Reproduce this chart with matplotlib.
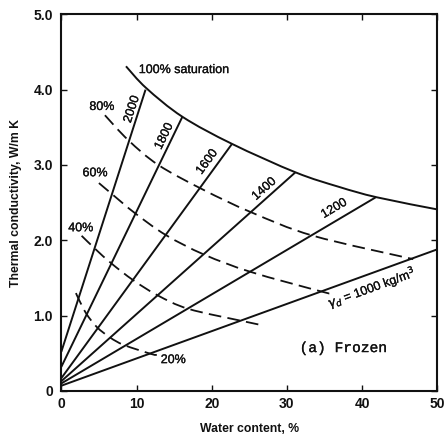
import matplotlib
matplotlib.use("Agg")
import matplotlib.pyplot as plt
from matplotlib.path import Path
from matplotlib.patches import PathPatch
import matplotlib.patheffects as pe
import numpy as np

# Dry-density lines: straight from the k-axis to the 100 % saturation curve
densities = [2000, 1800, 1600, 1400, 1200, 1000]
line_start_k = [0.52, 0.32, 0.17, 0.13, 0.10, 0.07]
line_end_w = [11.2, 16.1, 22.7, 31.1, 41.8, 50.0]
line_end_k = [4.00, 3.64, 3.28, 2.90, 2.57, 1.88]

# 100 % saturation curve
sat100_w = [8.6, 11.3, 16.1, 22.7, 31.2, 36.9, 42.0, 50.0]
sat100_k = [4.31, 4.02, 3.64, 3.28, 2.90, 2.71, 2.57, 2.41]

# Partial saturation curves (dashed)
sat80_w = [5.8, 8.9, 12.9, 18.9, 25.3, 33.5, 46.8]
sat80_k = [3.66, 3.33, 3.00, 2.67, 2.37, 2.06, 1.75]
sat60_w = [5.0, 6.9, 9.8, 13.9, 19.0, 25.2, 34.6, 35.7]
sat60_k = [2.76, 2.60, 2.36, 2.07, 1.81, 1.58, 1.32, 1.30]
sat40_w = [2.7, 4.57, 6.7, 9.57, 12.8, 16.9, 24.0, 26.9]
sat40_k = [2.06, 1.88, 1.69, 1.47, 1.27, 1.09, 0.93, 0.87]
sat20_w = [1.95, 2.26, 3.3, 4.71, 6.48, 8.34, 12.0, 12.7]
sat20_k = [1.30, 1.23, 1.03, 0.85, 0.71, 0.61, 0.49, 0.48]

x_ticks = [0, 10, 20, 30, 40, 50]
y_ticks = [0, 1, 2, 3, 4, 5]
y_tick_labels = ["0", "1.0", "2.0", "3.0", "4.0", "5.0"]

plt.rcParams["font.family"] = ["Liberation Sans", "DejaVu Sans"]

fig = plt.figure(figsize=(4.45, 4.40), dpi=100)
ax = fig.add_axes([0.1378, 0.1114, 0.8449, 0.8561])
ax.set_xlim(0, 50)
ax.set_ylim(0, 5)

ink = "#111111"
lw = 1.4
heavy = [pe.withStroke(linewidth=0.2, foreground=ink)]


def smooth_path(ws, ks):
    """Cubic Bezier path (Catmull-Rom tangents) through the given points."""
    p = np.column_stack([ws, ks]).astype(float)
    n = len(p)
    verts = [p[0]]
    codes = [Path.MOVETO]
    for i in range(n - 1):
        p0 = p[i - 1] if i > 0 else p[i]
        p1, p2 = p[i], p[i + 1]
        p3 = p[i + 2] if i + 2 < n else p[i + 1]
        c1 = p1 + (p2 - p0) / 6.0
        c2 = p2 - (p3 - p1) / 6.0
        verts += [c1, c2, p2]
        codes += [Path.CURVE4] * 3
    return Path(verts, codes)


for k0, w1, k1 in zip(line_start_k, line_end_w, line_end_k):
    ax.plot([0, w1], [k0, k1], color=ink, lw=lw, solid_capstyle="butt")

ax.add_patch(PathPatch(smooth_path(sat100_w, sat100_k), fill=False,
                       edgecolor=ink, lw=lw))

for ws, ks in [(sat80_w, sat80_k), (sat60_w, sat60_k),
               (sat40_w, sat40_k), (sat20_w, sat20_k)]:
    ax.add_patch(PathPatch(smooth_path(ws, ks), fill=False, edgecolor=ink,
                           lw=1.3, linestyle=(0, (7, 3.5))))


def screen_angle(w0, k0, w1, k1):
    p0 = ax.transData.transform((w0, k0))
    p1 = ax.transData.transform((w1, k1))
    return np.degrees(np.arctan2(p1[1] - p0[1], p1[0] - p0[0]))


lab_fs = 9
label_pos = [(9.4, 3.74), (13.7, 3.38), (19.4, 3.04), (27.0, 2.68), (36.3, 2.42)]
for (lx, ly), d, k0, w1, k1 in zip(label_pos, densities[:5], line_start_k,
                                    line_end_w, line_end_k):
    ang = screen_angle(0, k0, w1, k1)
    ax.text(lx, ly, str(d), rotation=ang, rotation_mode="anchor",
            ha="center", va="center", fontsize=lab_fs, color=ink,
            path_effects=heavy)

ang1000 = screen_angle(0, line_start_k[5], line_end_w[5], line_end_k[5])
ax.text(41.3, 1.37, r"$\gamma_d$ = 1000 kg/m$^3$", rotation=ang1000,
        rotation_mode="anchor", ha="center", va="center", fontsize=lab_fs,
        color=ink, path_effects=heavy)

for txt, x, y, ha in [("100% saturation", 10.3, 4.26, "left"),
                      ("80%", 5.4, 3.77, "center"),
                      ("60%", 4.5, 2.89, "center"),
                      ("40%", 2.6, 2.16, "center"),
                      ("20%", 14.9, 0.41, "center")]:
    ax.text(x, y, txt, ha=ha, va="center", fontsize=lab_fs, color=ink,
            path_effects=heavy)

ax.text(37.5, 0.57, "(a) Frozen", ha="center", va="center",
        fontsize=10.5, family=["Liberation Mono", "DejaVu Sans Mono"],
        color=ink, path_effects=heavy)

ax.set_xticks(x_ticks)
ax.set_xticklabels([str(v) for v in x_ticks])
ax.set_yticks(y_ticks)
ax.set_yticklabels(y_tick_labels)
ax.tick_params(direction="in", length=4, width=1.0, top=True, right=True,
               labelsize=10, colors=ink)
ax.tick_params(axis="x", pad=4)
ax.tick_params(axis="y", pad=6)
for lab in ax.get_xticklabels() + ax.get_yticklabels():
    lab.set_fontweight("bold")
for s in ax.spines.values():
    s.set_linewidth(1.5)
    s.set_color(ink)

ax.set_xlabel("Water content, %", fontsize=8.8, fontweight="bold",
              color=ink, labelpad=9)
ax.set_ylabel("Thermal conductivity, W/m K", fontsize=8.8, fontweight="bold",
              color=ink, labelpad=8)

fig.savefig("out.png", dpi=100)
